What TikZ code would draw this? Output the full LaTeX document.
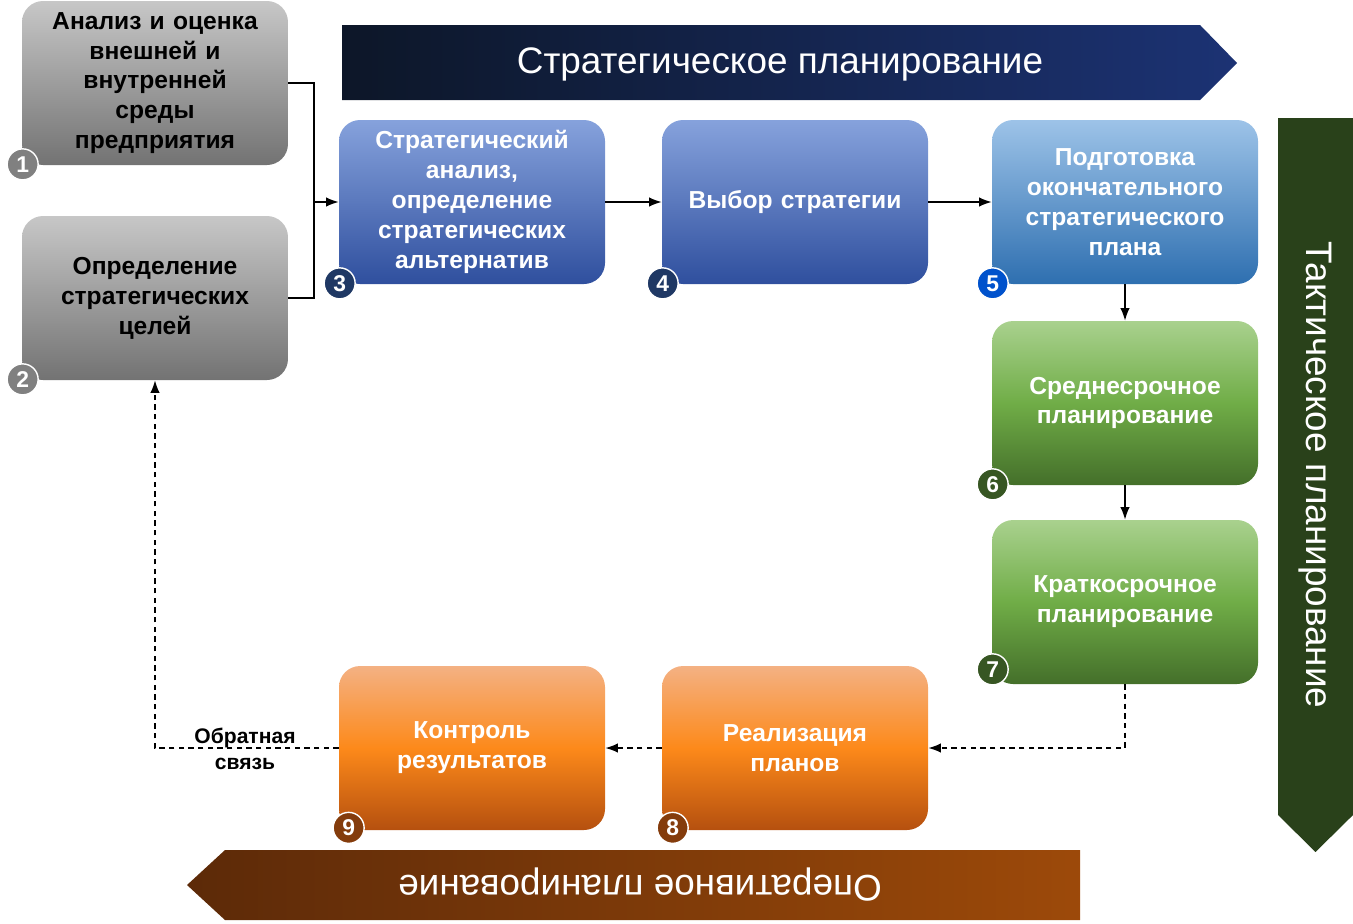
\documentclass[tikz,border=0pt]{standalone}
\usepackage{fontspec}
\setmainfont{Liberation Sans}
\usetikzlibrary{arrows.meta}
\definecolor{navy}{HTML}{1F3864}
\definecolor{dgreen}{HTML}{375623}
\definecolor{brownc}{HTML}{843C0C}
\definecolor{bluetop}{HTML}{86A2DC}
\definecolor{bluebot}{HTML}{2F4F9E}
\definecolor{ltop}{HTML}{9DC3E8}
\definecolor{lbot}{HTML}{2E6FB0}
\definecolor{gtop}{HTML}{A9D18E}
\definecolor{gmid}{HTML}{70AD47}
\definecolor{gbot}{HTML}{446F2A}
\definecolor{otop}{HTML}{F4B183}
\definecolor{obot}{HTML}{B5500F}
\tikzset{
	stage/.style={rounded corners=12pt, minimum width=5.32cm, minimum height=3.28cm, text width=4.4cm, align=center, font=\fontsize{14}{17}\selectfont\bfseries},
	graybox/.style={stage, top color=black!22, bottom color=black!55, text=black},
	bluebox/.style={stage, top color=bluetop, bottom color=bluebot, text=white},
	lightbox/.style={stage, top color=ltop, bottom color=lbot, text=white},
	greenbox/.style={stage, top color=gtop, bottom color=gbot, middle color=gmid, text=white},
	orangebox/.style={stage, top color=otop, bottom color=obot, middle color=orange!80!otop, text=white},
	num/.style={circle, draw=white, thick, minimum size=0.62cm, inner sep=0pt, text=white, font=\fontsize{13}{13}\selectfont\bfseries},
	link/.style={thick, -{Latex[length=2.5mm]}},
	dlink/.style={link, dash pattern=on 3pt off 2.5pt},
	banner/.style={text=white, font=\fontsize{21}{21}\selectfont}
}
\begin{document}
\begin{tikzpicture}[x=1cm,y=1cm]
	\useasboundingbox (0,0) rectangle (27.06,-18.46);
	% banners
	\shade[left color=navy!40!black, right color=navy!90!blue] (6.84,-0.5) -- (24,-0.5) -- (24.74,-1.26) -- (24,-2) -- (6.84,-2) -- cycle;
	\node[banner] (strat) at (15.6,-1.28) {Стратегическое планирование};
	\fill[dgreen!75!black] (25.56,-2.36) -- (27.06,-2.36) -- (27.06,-16.3) -- (26.31,-17.04) -- (25.56,-16.3) -- cycle;
	\node[banner, rotate=-90] (takt) at (26.31,-9.5) {Тактическое планирование};
	\shade[left color=brownc!70!black, right color=brownc!80!orange] (3.74,-17.7) -- (4.5,-17) -- (21.6,-17) -- (21.6,-18.4) -- (4.5,-18.4) -- cycle;
	\node[banner, rotate=180] (oper) at (12.8,-17.7) {Оперативное планирование};
	
	% stages
	\node[graybox] (s1) at (3.1,-1.66) {Анализ и оценка внешней и внутренней среды предприятия};
	\node[graybox] (s2) at (3.1,-5.96) {Определение стратегических целей};
	\node[bluebox] (s3) at (9.44,-4.04) {Стратегический анализ, определение стратегических альтернатив};
	\node[bluebox] (s4) at (15.9,-4.04) {Выбор стратегии};
	\node[lightbox] (s5) at (22.5,-4.04) {Подготовка окончательного стратегического плана};
	\node[greenbox] (s6) at (22.5,-8.06) {Среднесрочное планирование};
	\node[greenbox] (s7) at (22.5,-12.04) {Краткосрочное планирование};
	\node[orangebox] (s8) at (15.9,-14.96) {Реализация планов};
	\node[orangebox] (s9) at (9.44,-14.96) {Контроль результатов};
	
	% numbers
	\node[num, fill=gray] (n1) at ([shift={(0.02,0.02)}]s1.south west) {1};
	\node[num, fill=gray] (n2) at ([shift={(0.02,0.02)}]s2.south west) {2};
	\node[num, fill=navy] (n3) at ([shift={(0.02,0.02)}]s3.south west) {3};
	\node[num, fill=navy] (n4) at ([shift={(0.02,0.02)}]s4.south west) {4};
	\node[num, fill=blue!60!cyan!80!black] (n5) at ([shift={(0.02,0.02)}]s5.south west) {5};
	\node[num, fill=dgreen] (n6) at ([shift={(0.02,0.02)}]s6.south west) {6};
	\node[num, fill=dgreen] (n7) at ([shift={(0.02,0.3)}]s7.south west) {7};
	\node[num, fill=brownc] (n8) at ([shift={(0.22,0.05)}]s8.south west) {8};
	\node[num, fill=brownc] (n9) at ([shift={(0.2,0.05)}]s9.south west) {9};
	
	% connectors
	\coordinate (j) at (6.28,-4.04);
	\draw[thick] (s1.east) -| (j);
	\draw[thick] (s2.east) -| (j);
	\draw[link] (j) -- (s3);
	\draw[link] (s3) -- (s4);
	\draw[link] (s4) -- (s5);
	\draw[link] (s5) -- (s6);
	\draw[link] (s6) -- (s7);
	\draw[dlink] (s7.south) |- (s8.east);
	\draw[dlink] (s8) -- (s9);
	\draw[dlink] (s9.west) -| (s2.south);
	\node[align=center, font=\fontsize{12}{14.5}\selectfont\bfseries] (fb) at (4.9,-14.98) {Обратная\\связь};
\end{tikzpicture}
\end{document}
